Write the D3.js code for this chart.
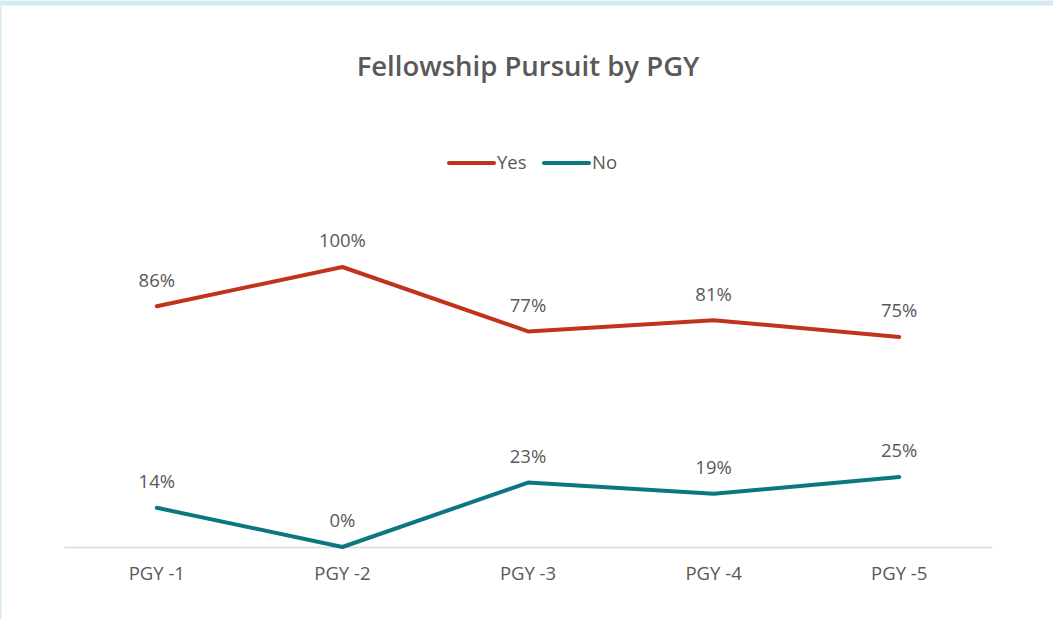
<!DOCTYPE html>
<html><head><meta charset="utf-8">
<script src="https://cdn.jsdelivr.net/npm/d3@7"></script>
<style>
html,body{margin:0;padding:0;background:#fff;}
svg{display:block;}
</style></head>
<body>
<svg id="chart" width="1053" height="619"></svg>
<script>
const categories = ["PGY -1","PGY -2","PGY -3","PGY -4","PGY -5"];
const yesValues = [0.86, 1.00, 0.77, 0.81, 0.75];
const noValues = [0.14, 0.00, 0.23, 0.19, 0.25];
const seriesNames = ["Yes","No"];
const seriesColors = ["#C0341F","#0B7780"];

const svg = d3.select("#chart");
const W = 1053, H = 619;
const font = "'Open Sans', 'Noto Sans', sans-serif";
const labelSize = 18.5;

// border
svg.append("rect").attr("x",0).attr("y",3).attr("width",W+10).attr("height",H+10)
  .attr("fill","#fff").attr("stroke","#D4ECF0").attr("stroke-width",5).attr("transform","translate(-1,0)");

const x = d3.scaleBand().domain(categories).range([64, 992]);
const y = d3.scaleLinear().domain([0, 1]).range([547, 267]);

// title
svg.append("text").attr("x",528).attr("y",76).attr("text-anchor","middle")
  .attr("font-family",font).attr("font-weight",600).attr("font-size",27.5)
  .attr("fill","#595959").text("Fellowship Pursuit by PGY");

// axis
const xAxis = d3.axisBottom(x).tickSize(0).tickPadding(20);
const gx = svg.append("g").attr("transform","translate(0,547)").call(xAxis);
gx.select(".domain").attr("stroke","#D9D9D9").attr("stroke-width",1.5);
gx.selectAll("text").attr("font-family",font).attr("font-size",labelSize).attr("fill","#595959");

const series = [yesValues, noValues];
const line = d3.line().x((d,i)=>x(categories[i])+x.bandwidth()/2).y(d=>y(d));

series.forEach((vals, si) => {
  svg.append("path").datum(vals).attr("d", line).attr("fill","none")
    .attr("stroke", seriesColors[si]).attr("stroke-width",4).attr("stroke-linejoin","round").attr("stroke-linecap","round");
  svg.append("g").selectAll("text").data(vals).join("text")
    .attr("x",(d,i)=>x(categories[i])+x.bandwidth()/2)
    .attr("y",d=>y(d)-26)
    .attr("dy","0.35em")
    .attr("text-anchor","middle")
    .attr("font-family",font).attr("font-size",labelSize).attr("fill","#595959")
    .text(d=>d3.format(".0%")(d));
});

// legend
const legendItems = [{x1:449,x2:494,tx:497},{x1:544,x2:589,tx:592}];
legendItems.forEach((li, i) => {
  svg.append("line").attr("x1",li.x1).attr("x2",li.x2).attr("y1",163).attr("y2",163)
    .attr("stroke",seriesColors[i]).attr("stroke-width",4).attr("stroke-linecap","round");
  svg.append("text").attr("x",li.tx).attr("y",163).attr("dy","0.35em")
    .attr("font-family",font).attr("font-size",labelSize).attr("fill","#595959").text(seriesNames[i]);
});
</script>
</body></html>
